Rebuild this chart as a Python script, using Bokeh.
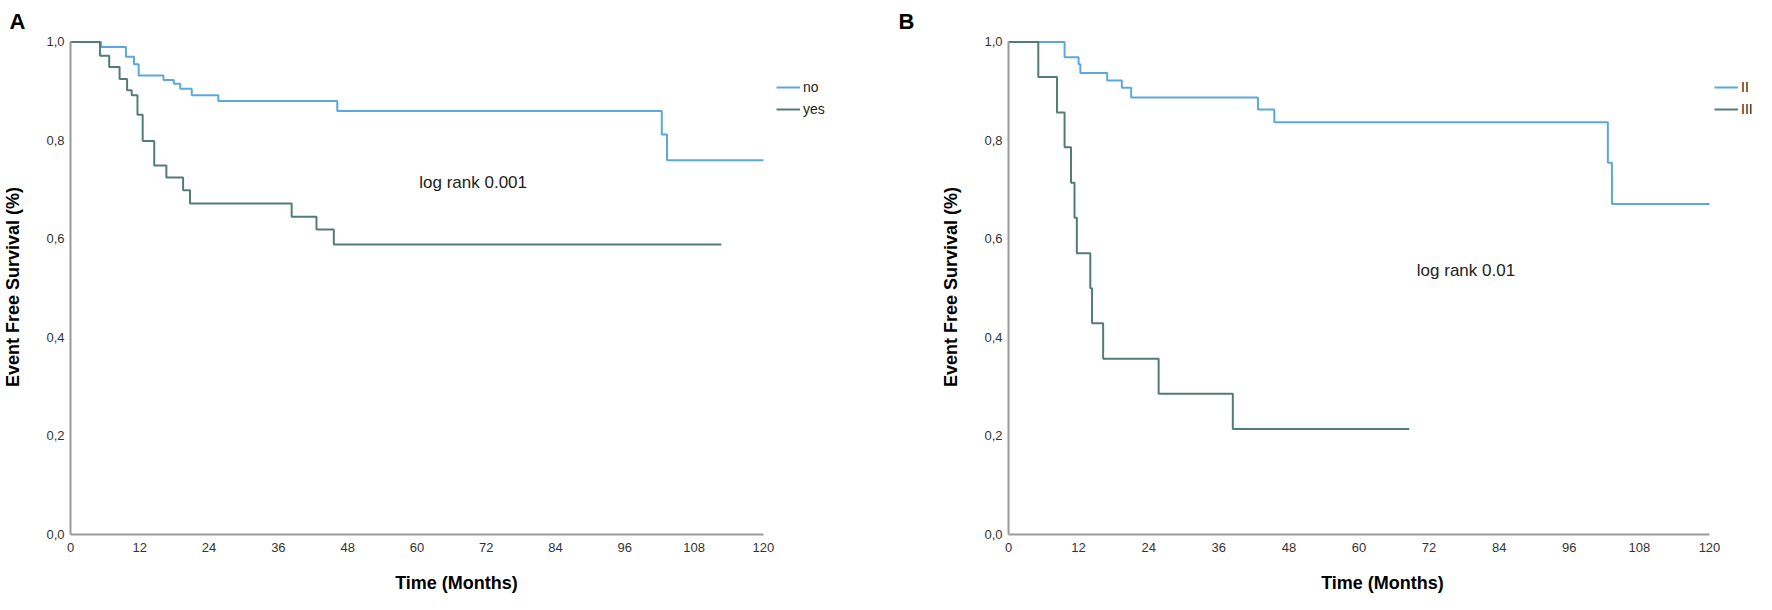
from bokeh.plotting import figure
from bokeh.layouts import row
from bokeh.models import Range1d, FixedTicker, Legend, LegendItem, Label
from bokeh.embed import file_html
from bokeh.resources import INLINE

# ---------------- data ----------------
x_ticks = [0, 12, 24, 36, 48, 60, 72, 84, 96, 108, 120]
y_ticks = [0.0, 0.2, 0.4, 0.6, 0.8, 1.0]
y_tick_labels = ["0,0", "0,2", "0,4", "0,6", "0,8", "1,0"]

# Panel A
a_no_t = [0, 5.3, 9.6, 11.0, 11.8, 16.1, 17.9, 19.0, 21.0, 25.6, 46.2, 102.4, 103.3, 120]
a_no_s = [1.0, 0.99, 0.97, 0.955, 0.932, 0.923, 0.915, 0.905, 0.892, 0.88, 0.86, 0.812, 0.76, 0.76]
a_yes_t = [0, 5.1, 6.7, 8.5, 9.8, 10.6, 11.6, 12.5, 14.5, 16.6, 19.5, 20.7, 38.3, 42.6, 45.6, 112.7]
a_yes_s = [1.0, 0.972, 0.949, 0.925, 0.902, 0.892, 0.852, 0.799, 0.749, 0.725, 0.699, 0.672, 0.645, 0.619, 0.589, 0.589]

# Panel B
b_ii_t = [0, 9.6, 12.0, 12.3, 16.9, 19.4, 21.0, 42.7, 45.5, 102.6, 103.3, 120]
b_ii_s = [1.0, 0.969, 0.955, 0.937, 0.922, 0.907, 0.887, 0.863, 0.837, 0.755, 0.671, 0.671]
b_iii_t = [0, 5.1, 8.3, 9.6, 10.7, 11.3, 11.7, 14.0, 14.3, 16.2, 25.7, 38.4, 68.6]
b_iii_s = [1.0, 0.929, 0.857, 0.786, 0.714, 0.643, 0.571, 0.5, 0.429, 0.357, 0.286, 0.214, 0.214]

BLUE = "#5ba9dc"
DARK = "#527c76"
AXIS = "#9a9a9a"
NARROW = "'Liberation Sans Narrow', 'Liberation Sans', Arial, sans-serif"
SANS = "'Liberation Sans', Arial, sans-serif"
PX_PER_MONTH = 701 / 120.0


def make_panel(letter, width, left, frame_w, s1, s2, names, logrank, lr_pos):
    x_end = frame_w / PX_PER_MONTH
    p = figure(width=width, height=596, output_backend="svg", toolbar_location=None,
               x_range=Range1d(0, x_end), y_range=Range1d(0, 1.005),
               min_border_left=left, min_border_right=width - left - frame_w,
               min_border_top=35, min_border_bottom=62)
    p.outline_line_color = None
    p.grid.grid_line_color = None
    p.background_fill_color = "white"

    p.title.text = letter
    p.title.align = "left"
    p.title.offset = -left
    p.title.text_font = SANS
    p.title.text_font_size = "22px"
    p.title.text_font_style = "bold"
    p.title.text_color = "black"
    p.title.standoff = 12

    for ax in (p.xaxis[0], p.yaxis[0]):
        ax.axis_line_color = AXIS
        ax.axis_line_width = 2
        ax.major_tick_line_color = None
        ax.minor_tick_line_color = None
        ax.major_tick_out = 0
        ax.major_label_text_font = NARROW
        ax.major_label_text_font_size = "13px"
        ax.major_label_text_color = "#333333"
        ax.axis_label_text_font = NARROW
        ax.axis_label_text_font_style = "bold"
        ax.axis_label_text_font_size = "18px"
        ax.axis_label_text_color = "black"

    p.xaxis.ticker = FixedTicker(ticks=x_ticks)
    p.xaxis.bounds = (0, 120)
    p.yaxis.ticker = FixedTicker(ticks=y_ticks)
    p.yaxis.bounds = (0, 1.0)
    p.yaxis.major_label_overrides = {t: l for t, l in zip(y_ticks, y_tick_labels)}
    p.xaxis.axis_label = "Time (Months)"
    p.yaxis.axis_label = "Event Free Survival (%)"
    p.xaxis.major_label_standoff = 8
    p.xaxis.axis_label_standoff = 18
    p.yaxis.major_label_standoff = 6
    p.yaxis.axis_label_standoff = 20

    r1 = p.step(s1[0], s1[1], mode="after", line_color=BLUE, line_width=2)
    r2 = p.step(s2[0], s2[1], mode="after", line_color=DARK, line_width=2)

    legend = Legend(items=[LegendItem(label=names[0], renderers=[r1]),
                           LegendItem(label=names[1], renderers=[r2])],
                    location=(706, 417), orientation="vertical",
                    glyph_width=24, glyph_height=14, label_standoff=3,
                    label_width=14, spacing=6, padding=0, margin=0,
                    label_text_font=SANS, label_text_font_size="14px",
                    label_text_color="#222222",
                    border_line_color=None, background_fill_alpha=0)
    p.add_layout(legend, "center")

    p.add_layout(Label(x=lr_pos[0], y=lr_pos[1], text=logrank,
                       text_font=SANS, text_font_size="17px", text_color="#222222",
                       text_align="left", text_baseline="middle"))
    return p


pA = make_panel("A", 898, 61, 781, (a_no_t, a_no_s), (a_yes_t, a_yes_s),
                ["no", "yes"], "log rank 0.001", (60.4, 0.715))
pB = make_panel("B", 858, 110, 748, (b_ii_t, b_ii_s), (b_iii_t, b_iii_s),
                ["II", "III"], "log rank 0.01", (69.9, 0.535))

layout = row(pA, pB)
open("out.html", "w").write(file_html(layout, INLINE))
